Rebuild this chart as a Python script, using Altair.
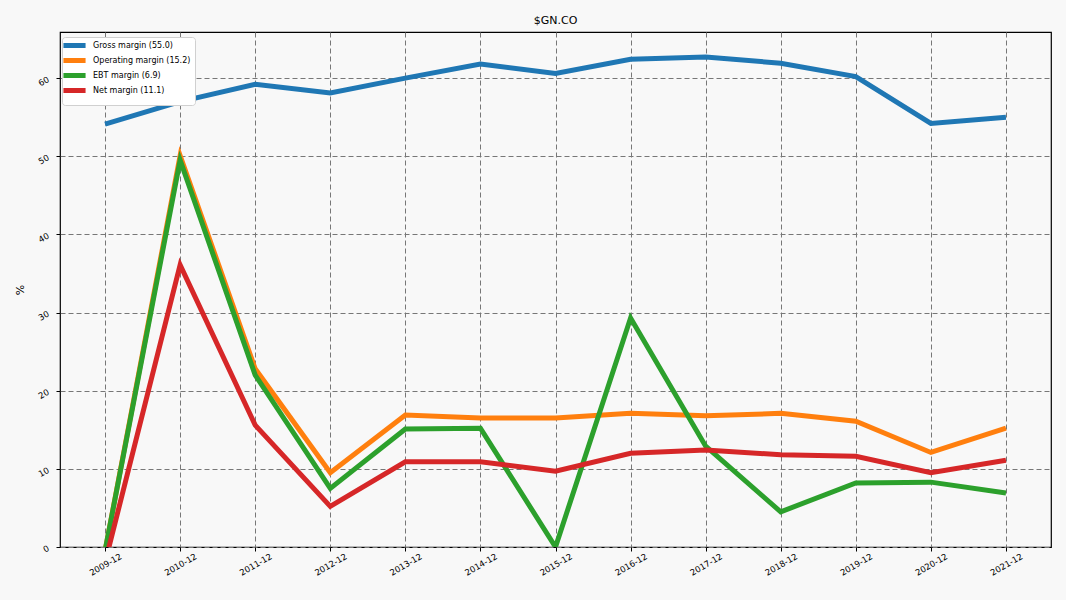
import altair as alt
import pandas as pd

periods = ["2009-12", "2010-12", "2011-12", "2012-12", "2013-12", "2014-12", "2015-12",
           "2016-12", "2017-12", "2018-12", "2019-12", "2020-12", "2021-12"]
gross = [54.1, 57.0, 59.2, 58.1, 60.0, 61.8, 60.6, 62.4, 62.7, 61.9, 60.2, 54.2, 55.0]
operating = [-0.5, 50.1, 22.8, 9.5, 16.9, 16.5, 16.5, 17.1, 16.8, 17.1, 16.1, 12.1, 15.2]
ebt = [-0.5, 49.5, 22.0, 7.5, 15.1, 15.2, 0.0, 29.3, 12.9, 4.5, 8.2, 8.3, 6.9]
net = [-2.0, 36.1, 15.6, 5.2, 10.9, 10.9, 9.7, 12.0, 12.4, 11.8, 11.6, 9.5, 11.1]

series_names = ["Gross margin (55.0)", "Operating margin (15.2)", "EBT margin (6.9)", "Net margin (11.1)"]
series_vals = [gross, operating, ebt, net]
colors = ["#1f77b4", "#ff7f0e", "#2ca02c", "#d62728"]

rows = []
for name, vals in zip(series_names, series_vals):
    for p, v in zip(periods, vals):
        rows.append({"period": p, "value": v, "series": name})
df = pd.DataFrame(rows)

font = "DejaVu Sans"

chart = alt.Chart(df).mark_line(strokeWidth=5, clip=True).encode(
    x=alt.X("period:O", sort=periods,
            scale=alt.Scale(type="point", padding=0.6),
            axis=alt.Axis(title=None, labelAngle=-30, labelFontSize=8.5, labelFont=font,
                          labelColor="#000", tickColor="#000", tickSize=4,
                          grid=True, gridDash=[5, 3], gridColor="#777", gridWidth=1,
                          domain=False, labelAlign="center", labelBaseline="middle", labelPadding=13)),
    y=alt.Y("value:Q", scale=alt.Scale(domain=[0, 65.9], nice=False, zero=False),
            axis=alt.Axis(title="%", titleFont=font, titleFontSize=11, titleFontWeight="normal",
                          titleColor="#000", values=[0, 10, 20, 30, 40, 50, 60],
                          labelAngle=-30, labelFontSize=8.5, labelFont=font, labelColor="#000",
                          tickColor="#000", tickSize=4, grid=True, gridDash=[5, 3],
                          gridColor="#777", gridWidth=1, domain=False, titlePadding=11,
                          labelPadding=8)),
    color=alt.Color("series:N",
                    scale=alt.Scale(domain=series_names, range=colors),
                    legend=alt.Legend(title=None, orient="none", legendX=2, legendY=5,
                                      symbolType="M-7,0H7", symbolStrokeWidth=5, symbolSize=10,
                                      labelFont=font, labelFontSize=8, labelColor="#000",
                                      fillColor="#ffffff", strokeColor="#d0d0d0", padding=4,
                                      cornerRadius=3, rowPadding=-9, symbolOffset=4,
                                      labelOffset=14)),
).properties(
    width=991, height=515,
    title=alt.Title("$GN.CO", font=font, fontSize=11, fontWeight="normal", color="#000", offset=6),
    background="#f8f8f8",
    padding={"left": 60, "top": 32, "right": 15, "bottom": 53},
    autosize=alt.AutoSizeParams(type="none"),
).configure_view(stroke="#000", strokeWidth=1.2, fill="#f8f8f8")

chart.save("out.html", embed_options={"renderer": "svg", "actions": False})
